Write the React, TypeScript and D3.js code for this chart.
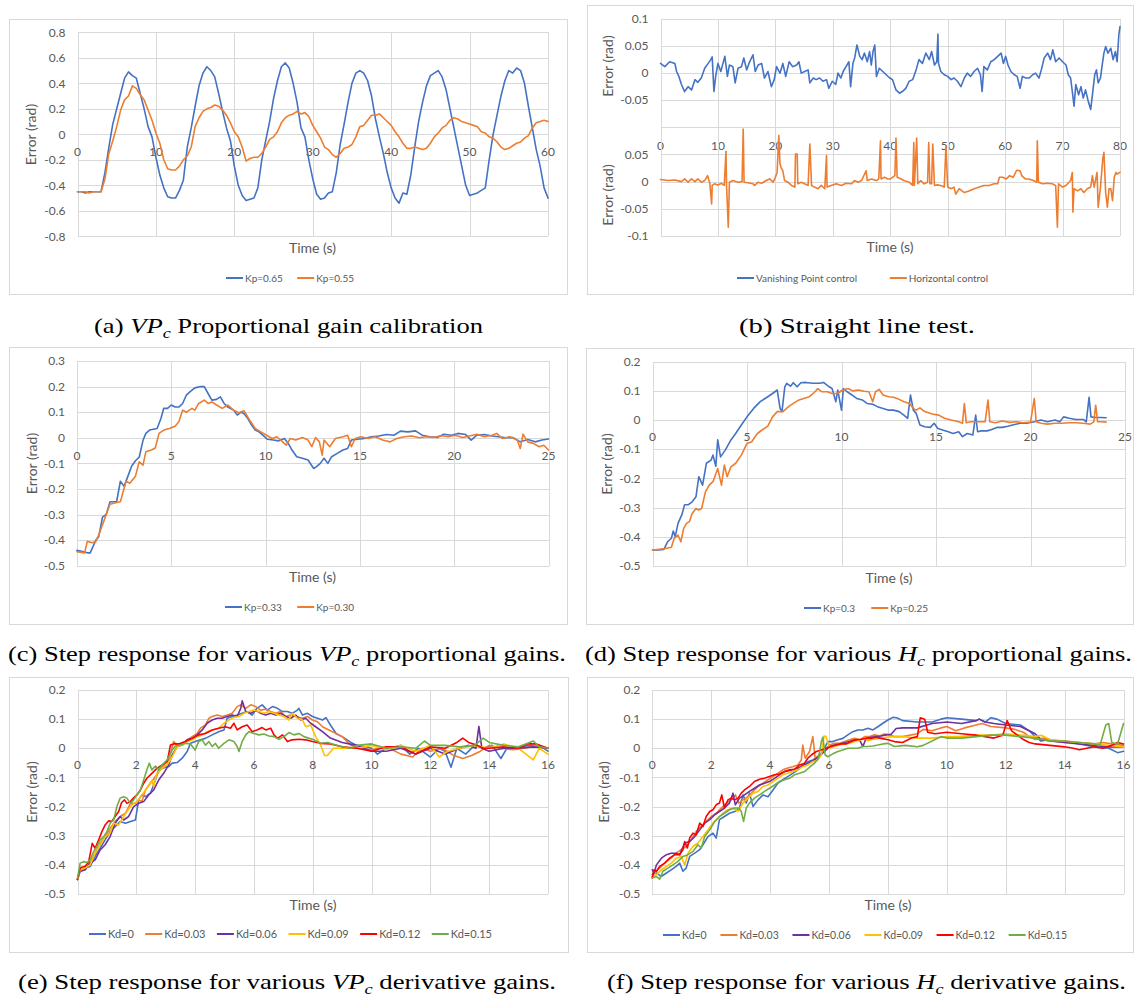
import React, { useEffect, useRef } from "react";
import * as d3 from "d3";

type Pt = [number, number];

const BLUE = "#4472C4";
const ORANGE = "#ED7D31";
const PURPLE = "#7030A0";
const YELLOW = "#FFC000";
const RED = "#FF0000";
const GREEN = "#70AD47";
const GREY = "#595959";
const GRID = "#d9d9d9";
const FONT = "Lato, 'Open Sans', sans-serif";
const SERIF = "'Liberation Serif', 'Times New Roman', Times, serif";

// ---------- (a) proportional gain calibration, sampled every 0.5 s ----------
const A_STEP = 0.5;
const aKp065 = [
  -0.45, -0.45, -0.46, -0.45, -0.45, -0.45, -0.45, -0.3, -0.1, 0.08,
  0.2, 0.32, 0.44, 0.49, 0.46, 0.44, 0.32, 0.2, 0.06, -0.02,
  -0.18, -0.32, -0.42, -0.49, -0.5, -0.5, -0.44, -0.36, -0.1, 0.05,
  0.22, 0.38, 0.48, 0.53, 0.5, 0.45, 0.32, 0.18, 0.05, -0.05,
  -0.25, -0.4, -0.48, -0.52, -0.51, -0.5, -0.42, -0.2, -0.05, 0.1,
  0.28, 0.42, 0.53, 0.56, 0.52, 0.4, 0.25, 0.05, -0.02, -0.2,
  -0.35, -0.47, -0.51, -0.5, -0.46, -0.45, -0.3, -0.08, 0.08, 0.25,
  0.4, 0.48, 0.5, 0.48, 0.42, 0.3, 0.12, -0.02, -0.15, -0.3,
  -0.42, -0.5, -0.54, -0.46, -0.47, -0.32, -0.1, 0.1, 0.25, 0.38,
  0.46, 0.48, 0.5, 0.45, 0.35, 0.2, 0.05, -0.1, -0.25, -0.4,
  -0.48, -0.47, -0.46, -0.44, -0.42, -0.2, 0.0, 0.15, 0.3, 0.42,
  0.5, 0.48, 0.52, 0.5, 0.4, 0.22, 0.05, -0.12, -0.25, -0.42,
  -0.5,
];
const aKp055 = [
  -0.45, -0.45, -0.45, -0.46, -0.45, -0.45, -0.45, -0.35, -0.15, -0.05,
  0.06, 0.19, 0.27, 0.3, 0.38, 0.36, 0.31, 0.27, 0.19, 0.11,
  0.01, -0.07, -0.2, -0.27, -0.28, -0.28, -0.25, -0.2, -0.17, -0.1,
  0.06, 0.13, 0.18, 0.2, 0.21, 0.23, 0.22, 0.19, 0.15, 0.09,
  0.02, -0.02, -0.1, -0.21, -0.19, -0.18, -0.18, -0.15, -0.1, -0.04,
  -0.02, 0.02, 0.09, 0.13, 0.15, 0.16, 0.18, 0.16, 0.17, 0.14,
  0.07, 0.02, -0.03, -0.1, -0.12, -0.16, -0.18, -0.15, -0.11, -0.1,
  -0.08, -0.02, 0.06, 0.07, 0.11, 0.15, 0.15, 0.16, 0.13, 0.1,
  0.07, 0.02, -0.02, -0.07, -0.11, -0.11, -0.1, -0.11, -0.12, -0.11,
  -0.07, -0.02, 0.01, 0.05, 0.07, 0.11, 0.13, 0.12, 0.1, 0.09,
  0.08, 0.07, 0.06, 0.02, 0.01, -0.02, -0.03, -0.06, -0.1, -0.12,
  -0.11, -0.09, -0.07, -0.06, -0.03, -0.01, 0.05, 0.09, 0.1, 0.11,
  0.1,
];
const aXTicks = [0, 10, 20, 30, 40, 50, 60];
const aYTicks = [-0.8, -0.6, -0.4, -0.2, 0, 0.2, 0.4, 0.6, 0.8];

// ---------- (b) straight line test ----------
const bVanishing: Pt[] = [
  [0, 0.018], [0.75, 0.012], [1.6, 0.021], [2.5, 0.018], [2.8, 0.003], [3.2, -0.006], [3.65, -0.021], [4.2, -0.034],
  [4.8, -0.025], [5.4, -0.031], [6, -0.012], [6.5, -0.017], [7.1, -0.009], [7.7, 0.009], [8.3, 0.018], [8.75, 0.025],
  [9, 0.03], [9.3, -0.034], [9.6, -0.006], [10, 0.018], [10.5, 0.003], [11.2, 0.031], [11.65, -0.006], [12, 0.015],
  [12.6, 0.012], [13, -0.018], [13.5, 0.009], [14.1, 0.012], [14.5, 0.028], [15, 0.006], [15.4, 0.018], [16.1, 0.034],
  [16.5, 0.003], [17, 0.015], [17.6, 0.018], [18.1, -0.009], [18.7, 0.003], [19.3, -0.025], [19.8, -0.012], [20.2, 0.012],
  [20.8, 0], [21.3, 0.018], [21.8, -0.006], [22.4, 0.021], [23, 0.012], [23.7, 0.015], [24.1, 0.021], [24.5, 0],
  [25.1, 0.003], [25.7, 0.006], [26, -0.018], [26.6, -0.009], [27.1, -0.012], [27.7, -0.009], [28.3, -0.015], [28.9, -0.012],
  [29.3, -0.028], [29.9, -0.015], [30.5, -0.021], [30.9, 0], [31.4, -0.009], [31.8, 0.003], [32.3, 0.012], [32.8, 0.021],
  [33.1, -0.025], [33.5, 0.018], [33.8, 0.028], [34.2, 0.052], [34.7, 0.031], [35.1, 0.025], [35.5, 0.037], [36, 0.021],
  [36.4, 0.04], [36.7, 0.015], [37, 0.04], [37.3, 0.052], [37.6, -0.006], [38.1, 0.009], [38.7, 0.003], [39.3, -0.003],
  [39.9, -0.009], [40.4, -0.012], [41, -0.031], [41.6, -0.037], [42.1, -0.034], [42.7, -0.028], [43.3, -0.015], [43.9, -0.012],
  [44.5, 0.006], [45, 0.025], [45.6, 0.018], [46.2, 0.037], [46.8, 0.025], [47.2, 0.04], [47.7, 0.015], [48.1, 0.021],
  [48.3, 0.072], [48.4, 0.018], [48.8, 0.003], [49.4, -0.003], [50, -0.006], [50.6, -0.012], [51.1, -0.009], [51.7, -0.015],
  [52.3, -0.025], [52.9, -0.009], [53.4, 0], [54, -0.006], [54.6, 0.003], [55.2, 0.009], [55.7, -0.003], [56, -0.034],
  [56.3, 0.012], [56.9, 0.006], [57.5, 0.021], [58.1, 0.025], [58.7, 0.031], [59.3, 0.037], [59.7, 0.018], [60.1, 0.031],
  [60.5, 0.015], [61, 0.003], [61.6, -0.003], [62.1, -0.006], [62.6, -0.028], [63, -0.006], [63.6, -0.009], [64.2, -0.009],
  [64.8, -0.003], [65.3, 0], [65.9, -0.009], [66.3, 0.006], [66.8, 0.028], [67.4, 0.037], [67.9, 0.025], [68.3, 0.043],
  [68.8, 0.021], [69.4, 0.028], [70, 0.021], [70.6, 0.015], [71, -0.003], [71.4, -0.009], [71.7, -0.034], [72, -0.061],
  [72.3, -0.021], [72.8, -0.04], [73.2, -0.025], [73.6, -0.046], [74, -0.031], [74.4, -0.049], [74.9, -0.067], [75.2, -0.04],
  [75.6, -0.003], [75.9, 0.006], [76.2, -0.018], [76.6, -0.009], [76.9, 0.015], [77.2, 0.037], [77.5, 0.049], [77.9, 0.037],
  [78.4, 0.046], [78.8, 0.025], [79.2, 0.04], [79.5, 0.021], [79.8, 0.071], [80, 0.086],
];
const bHorizontal: Pt[] = [
  [0, 0.004], [1.3, 0.002], [2.5, 0.003], [3.65, 0], [4.2, 0.005], [4.8, -0.001], [5.4, 0.005], [6, 0],
  [6.5, 0.005], [7.1, -0.001], [7.7, 0.002], [8.2, 0.011], [8.6, -0.004], [8.9, -0.041], [9, -0.007], [9.4, -0.004],
  [10, -0.006], [10.6, -0.003], [11.1, -0.007], [11.4, 0.056], [11.5, -0.007], [11.8, -0.084], [12, -0.001], [12.6, 0.002],
  [13.5, -0.001], [14.2, 0], [14.4, 0.097], [14.55, -0.001], [15.2, -0.002], [16.1, -0.004], [16.4, -0.007], [17, -0.001],
  [17.6, -0.003], [18.4, 0.002], [19, 0.005], [19.6, -0.001], [20, 0.008], [20.3, 0.017], [20.6, 0.085], [20.8, 0.033],
  [21, 0.026], [21.3, 0.02], [21.6, 0.002], [22.2, -0.001], [22.8, -0.007], [23.4, -0.01], [23.5, 0.051], [23.8, 0.051],
  [23.9, -0.004], [24.5, -0.001], [25.1, -0.004], [25.7, -0.007], [26, 0.069], [26.3, -0.007], [26.8, -0.01], [27.4, -0.013],
  [28, -0.007], [28.6, -0.013], [28.9, 0.048], [29, -0.01], [29.7, -0.007], [30.6, -0.004], [31.5, -0.007], [32.3, -0.003],
  [33.2, -0.004], [33.8, 0.002], [34.4, -0.001], [35, 0.002], [35.8, 0.02], [36, 0.002], [36.7, 0.005], [37.6, 0.002],
  [38, 0.005], [38.3, 0.075], [38.4, 0.005], [39, 0.008], [39.6, 0.005], [40, 0.005], [40.4, 0.008], [40.8, 0.011],
  [41, 0.08], [41.2, 0.008], [41.9, 0.005], [42.4, 0.002], [43.3, -0.001], [43.9, -0.007], [44.1, 0.072], [44.2, -0.007],
  [44.6, 0.08], [44.8, -0.004], [45.3, 0.002], [45.9, -0.004], [46.5, -0.001], [46.7, 0.072], [46.9, -0.004], [47.2, -0.004],
  [47.4, 0.069], [47.7, -0.007], [48.2, -0.006], [48.8, -0.007], [49.4, -0.01], [49.7, 0.066], [50, -0.01], [50.6, -0.013],
  [51.1, -0.01], [51.4, -0.023], [52, -0.013], [52.9, -0.02], [53.7, -0.017], [54.6, -0.013], [55.5, -0.01], [56.3, -0.007],
  [57.2, -0.007], [58.1, -0.004], [58.7, -0.004], [59, 0.008], [59.6, 0.008], [60.2, 0.005], [60.8, 0.011], [61.4, 0.008],
  [62, 0.021], [62.6, 0.02], [62.9, 0.011], [63.5, 0.005], [64.1, 0.005], [64.9, 0.002], [65.5, -0.001], [65.6, 0.075],
  [65.8, -0.001], [66.5, -0.004], [67.4, -0.003], [68.2, -0.004], [68.8, -0.007], [69.1, -0.084], [69.3, -0.004], [70, -0.01],
  [70.6, -0.007], [71.4, 0.002], [71.7, 0.017], [71.8, -0.056], [72, -0.013], [72.6, -0.017], [73.2, -0.013], [73.7, -0.02],
  [74.3, -0.013], [74.9, -0.01], [75.2, 0.011], [75.5, -0.01], [76, 0.017], [76.2, -0.047], [76.6, -0.01], [77, 0.042],
  [77.2, 0.054], [77.5, -0.02], [77.8, -0.047], [78.1, -0.013], [78.4, -0.013], [78.7, -0.035], [79, 0.008], [79.3, 0.017],
  [79.5, 0.014], [80, 0.017],
];
const bXTicks = [0, 10, 20, 30, 40, 50, 60, 70, 80];
const bYGrid = [-0.1, -0.05, 0, 0.05, 0.1];
const bTopYLabels = [0.1, 0.05, 0, -0.05];
const bBottomYLabels = [0.05, 0, -0.05, -0.1];

// ---------- (c) VPc proportional gains ----------
const cKp033: Pt[] = [
  [0, -0.44], [0.3, -0.445], [0.6, -0.45], [0.7, -0.45], [1.0, -0.4], [1.15, -0.387], [1.35, -0.31], [1.55, -0.3],
  [1.75, -0.25], [1.9, -0.25], [2.1, -0.25], [2.3, -0.17], [2.5, -0.19], [2.7, -0.15], [2.9, -0.11], [3.1, -0.09],
  [3.3, -0.075], [3.5, -0.01], [3.65, 0.017], [3.85, 0.03], [4.05, 0.033], [4.25, 0.036], [4.45, 0.075], [4.6, 0.115],
  [4.8, 0.115], [5.0, 0.128], [5.2, 0.12], [5.4, 0.12], [5.6, 0.134], [5.8, 0.167], [6.0, 0.18], [6.25, 0.195],
  [6.55, 0.2], [6.75, 0.2], [6.95, 0.173], [7.15, 0.147], [7.4, 0.15], [7.6, 0.16], [7.8, 0.134], [8.0, 0.12],
  [8.3, 0.108], [8.5, 0.089], [8.7, 0.1], [8.85, 0.095], [9.05, 0.076], [9.25, 0.05], [9.45, 0.03], [9.65, 0.023],
  [9.85, 0.01], [10.1, -0.006], [10.4, -0.009], [10.7, -0.012], [11.0, -0.003], [11.2, -0.022], [11.4, -0.048], [11.65, -0.074],
  [11.95, -0.08], [12.25, -0.087], [12.55, -0.12], [12.7, -0.113], [12.9, -0.1], [13.1, -0.08], [13.3, -0.1], [13.5, -0.074],
  [13.8, -0.061], [14.1, -0.048], [14.35, -0.042], [14.55, -0.009], [14.85, -0.006], [15.25, -0.003], [15.6, 0.004], [16.0, 0.007],
  [16.4, 0.013], [16.8, 0.01], [17.15, 0.026], [17.55, 0.023], [17.95, 0.027], [18.3, 0.01], [18.7, 0.004], [19.1, 0.001],
  [19.45, 0.014], [19.85, 0.01], [20.2, 0.017], [20.6, 0.013], [20.9, -0.009], [21.2, 0.01], [21.6, 0.013], [22.0, 0.007],
  [22.35, 0.004], [22.75, 0], [23.1, 0.001], [23.5, -0.016], [23.9, -0.007], [24.3, -0.016], [24.65, -0.009], [25, -0.005],
];
const cKp030: Pt[] = [
  [0, -0.445], [0.4, -0.45], [0.55, -0.405], [0.8, -0.41], [1.0, -0.405], [1.15, -0.38], [1.45, -0.32], [1.75, -0.26],
  [2.0, -0.255], [2.3, -0.25], [2.6, -0.17], [2.8, -0.178], [3.1, -0.15], [3.3, -0.094], [3.5, -0.107], [3.65, -0.055],
  [3.95, -0.048], [4.15, -0.04], [4.35, 0.017], [4.6, 0.03], [4.9, 0.036], [5.2, 0.045], [5.4, 0.063], [5.6, 0.108],
  [5.8, 0.1], [6.1, 0.115], [6.25, 0.108], [6.45, 0.134], [6.75, 0.147], [6.95, 0.134], [7.15, 0.14], [7.4, 0.128],
  [7.7, 0.115], [8.0, 0.128], [8.3, 0.108], [8.6, 0.098], [8.85, 0.106], [9.15, 0.07], [9.45, 0.036], [9.75, 0.023],
  [10.05, 0.01], [10.35, -0.003], [10.6, 0.004], [10.9, -0.016], [11.1, -0.029], [11.3, -0.003], [11.6, -0.009], [11.95, 0.001],
  [12.25, -0.009], [12.45, -0.035], [12.65, 0.001], [12.85, -0.016], [13.0, -0.068], [13.1, -0.009], [13.4, -0.035], [13.7, -0.003],
  [14.1, 0.004], [14.35, 0.01], [14.55, -0.035], [14.75, -0.003], [15.05, 0.004], [15.45, -0.003], [15.8, 0.004], [16.2, -0.009],
  [16.6, -0.016], [16.95, -0.003], [17.35, 0.004], [17.75, 0.007], [18.15, 0], [18.5, 0.004], [18.9, 0.001], [19.3, 0.008],
  [19.7, 0.004], [20.05, 0.01], [20.45, 0.001], [20.85, 0.008], [21.2, 0.014], [21.6, 0.004], [22.0, 0.01], [22.25, 0.017],
  [22.55, -0.003], [22.95, 0.004], [23.35, -0.009], [23.5, -0.042], [23.65, 0.014], [23.9, -0.016], [24.2, -0.022], [24.5, -0.035],
  [24.75, -0.029], [25, -0.048],
];
const cdXTicks = [0, 5, 10, 15, 20, 25];
const cYTicks = [-0.5, -0.4, -0.3, -0.2, -0.1, 0, 0.1, 0.2, 0.3];

// ---------- (d) Hc proportional gains ----------
const dKp03: Pt[] = [
  [0, -0.445], [0.33, -0.445], [0.6, -0.443], [0.8, -0.417], [1.0, -0.405], [1.1, -0.38], [1.2, -0.4], [1.35, -0.354],
  [1.55, -0.325], [1.7, -0.29], [1.9, -0.29], [2.1, -0.28], [2.3, -0.263], [2.45, -0.194], [2.65, -0.223], [2.85, -0.148],
  [3.1, -0.137], [3.2, -0.12], [3.35, -0.158], [3.45, -0.068], [3.6, -0.126], [3.85, -0.103], [4.15, -0.068], [4.4, -0.046],
  [4.7, -0.017], [5.0, 0.011], [5.35, 0.04], [5.7, 0.063], [6.1, 0.08], [6.35, 0.091], [6.6, 0.103], [6.75, 0.04],
  [6.85, 0.029], [7.0, 0.114], [7.1, 0.126], [7.3, 0.116], [7.45, 0.128], [7.65, 0.114], [7.85, 0.128], [8.1, 0.129],
  [8.5, 0.126], [8.85, 0.126], [9.05, 0.129], [9.35, 0.114], [9.5, 0.108], [9.7, 0.063], [9.8, 0.103], [10.0, 0.034],
  [10.1, 0.108], [10.3, 0.097], [10.55, 0.086], [10.8, 0.074], [11.1, 0.069], [11.35, 0.057], [11.65, 0.054], [11.9, 0.046],
  [12.2, 0.04], [12.5, 0.034], [12.75, 0.034], [13.05, 0.029], [13.3, 0.017], [13.5, 0.006], [13.65, 0.086], [13.8, 0.034],
  [13.95, 0.023], [14.15, -0.017], [14.4, -0.023], [14.7, -0.025], [14.9, -0.011], [15.1, -0.029], [15.35, -0.034], [15.65, -0.04],
  [15.9, -0.046], [16.2, -0.04], [16.4, -0.057], [16.65, -0.046], [16.95, -0.051], [17.1, 0.017], [17.2, -0.04], [17.4, -0.037],
  [17.7, -0.037], [17.95, -0.032], [18.25, -0.025], [18.5, -0.025], [18.8, -0.021], [19.05, -0.017], [19.45, -0.011], [19.8, -0.011],
  [20.2, -0.006], [20.55, 0], [20.9, -0.006], [21.3, 0], [21.55, -0.006], [21.75, 0.011], [22.05, 0.006], [22.4, 0.002],
  [22.8, 0.002], [22.95, -0.006], [23.1, 0.078], [23.2, 0.011], [23.45, 0.009], [23.7, 0.009], [24.0, 0.008],
];
const dKp025: Pt[] = [
  [0, -0.445], [0.33, -0.443], [0.7, -0.44], [1.0, -0.436], [1.15, -0.405], [1.35, -0.394], [1.5, -0.417], [1.65, -0.371],
  [1.8, -0.354], [1.95, -0.348], [2.1, -0.32], [2.3, -0.303], [2.45, -0.308], [2.6, -0.303], [2.8, -0.246], [3.0, -0.223],
  [3.2, -0.211], [3.45, -0.166], [3.65, -0.223], [3.8, -0.154], [3.95, -0.194], [4.15, -0.16], [4.4, -0.148], [4.7, -0.12],
  [5.0, -0.08], [5.25, -0.074], [5.55, -0.046], [5.8, -0.034], [6.1, -0.021], [6.35, 0.011], [6.6, 0.029], [6.9, 0.029],
  [7.2, 0.046], [7.45, 0.057], [7.75, 0.069], [8.0, 0.074], [8.3, 0.08], [8.6, 0.097], [8.75, 0.108], [8.95, 0.097],
  [9.25, 0.097], [9.5, 0.091], [9.8, 0.091], [10.05, 0.103], [10.35, 0.108], [10.6, 0.1], [10.9, 0.103], [11.2, 0.099],
  [11.45, 0.097], [11.65, 0.063], [11.8, 0.097], [12.0, 0.105], [12.2, 0.086], [12.5, 0.08], [12.75, 0.078], [13.05, 0.071],
  [13.3, 0.063], [13.6, 0.057], [13.8, 0.04], [13.95, 0.034], [14.15, 0.042], [14.4, 0.029], [14.8, 0.021], [15.15, 0.017],
  [15.45, 0.006], [15.8, 0], [16.2, -0.006], [16.4, -0.011], [16.5, 0.057], [16.6, -0.009], [16.85, -0.006], [17.2, -0.006],
  [17.6, -0.006], [17.75, 0.069], [17.85, -0.006], [18.15, -0.009], [18.5, -0.003], [18.9, -0.008], [19.25, -0.006], [19.6, -0.009],
  [20.0, -0.007], [20.2, 0.074], [20.3, -0.006], [20.55, -0.011], [20.9, -0.014], [21.3, -0.011], [21.65, -0.011], [22.05, -0.009],
  [22.4, -0.009], [22.8, -0.011], [23.15, -0.014], [23.35, -0.006], [23.45, 0.051], [23.55, -0.006], [23.8, -0.006], [24.0, -0.007],
];
const dYTicks = [-0.5, -0.4, -0.3, -0.2, -0.1, 0, 0.1, 0.2];

// ---------- (e) VPc derivative gains ----------
const eKd0: Pt[] = [
  [0, -0.45], [0.09, -0.417], [0.26, -0.411], [0.43, -0.406], [0.6, -0.371], [0.77, -0.343], [0.94, -0.314], [1.11, -0.286],
  [1.28, -0.269], [1.45, -0.251], [1.63, -0.257], [1.8, -0.251], [1.97, -0.246], [2.08, -0.177], [2.19, -0.16], [2.31, -0.166],
  [2.48, -0.154], [2.65, -0.109], [2.76, -0.074], [2.88, -0.069], [2.99, -0.065], [3.1, -0.063], [3.22, -0.051], [3.39, -0.049],
  [3.56, -0.034], [3.73, -0.011], [3.84, 0.017], [4.0, 0.023], [4.18, 0.029], [4.35, 0.034], [4.58, 0.046], [4.8, 0.057],
  [4.98, 0.063], [5.09, 0.103], [5.26, 0.109], [5.43, 0.114], [5.6, 0.12], [5.77, 0.126], [5.94, 0.114], [6.1, 0.137],
  [6.28, 0.149], [6.45, 0.131], [6.63, 0.143], [6.8, 0.137], [6.97, 0.126], [7.14, 0.126], [7.3, 0.12], [7.48, 0.131],
  [7.53, 0.137], [7.65, 0.114], [7.82, 0.12], [7.99, 0.109], [8.16, 0.103], [8.33, 0.097], [8.45, 0.105], [8.6, 0.08],
  [8.8, 0.05], [9, 0.04], [9.3, 0.02], [9.5, 0.01], [9.8, 0.005], [10, 0], [10.2, -0.02], [10.5, 0],
  [10.8, 0.005], [11, 0.01], [11.3, -0.02], [11.6, 0], [12, -0.03], [12.3, 0], [12.5, -0.01], [12.7, -0.065],
  [12.9, 0], [13.2, -0.02], [13.5, 0.01], [13.8, 0], [14.1, 0.01], [14.4, -0.035], [14.6, 0], [15, 0.005],
  [15.4, 0.01], [15.7, 0.01], [16, -0.01],
];
const eKd003: Pt[] = [
  [0, -0.45], [0.09, -0.411], [0.26, -0.417], [0.43, -0.389], [0.6, -0.36], [0.77, -0.326], [0.94, -0.303], [1.11, -0.274],
  [1.28, -0.251], [1.45, -0.234], [1.63, -0.223], [1.8, -0.189], [1.97, -0.189], [2.08, -0.177], [2.19, -0.183], [2.31, -0.143],
  [2.48, -0.12], [2.65, -0.097], [2.82, -0.074], [2.99, -0.051], [3.1, -0.04], [3.27, 0.023], [3.39, 0.011], [3.56, 0.017],
  [3.73, 0.029], [3.9, 0.04], [4.07, 0.051], [4.18, 0.069], [4.35, 0.08], [4.47, 0.103], [4.58, 0.109], [4.75, 0.114],
  [4.92, 0.109], [5.09, 0.114], [5.26, 0.12], [5.43, 0.143], [5.55, 0.149], [5.72, 0.137], [5.89, 0.149], [6.06, 0.143],
  [6.23, 0.131], [6.4, 0.134], [6.57, 0.126], [6.74, 0.12], [6.91, 0.126], [7.08, 0.109], [7.25, 0.114], [7.42, 0.109],
  [7.65, 0.103], [7.82, 0.109], [7.99, 0.097], [8.16, 0.091], [8.33, 0.074], [8.6, 0.06], [9, 0.04], [9.3, 0.01],
  [9.6, 0], [10, -0.005], [10.5, 0.005], [11, -0.02], [11.4, -0.03], [11.7, 0], [12, -0.01], [12.4, 0],
  [12.8, -0.025], [13.1, -0.035], [13.4, -0.025], [13.7, -0.01], [14, 0.01], [14.4, 0], [14.8, -0.005], [15.2, 0],
  [15.6, 0.01], [16, 0],
];
const eKd006: Pt[] = [
  [0, -0.45], [0.09, -0.423], [0.26, -0.417], [0.43, -0.394], [0.6, -0.383], [0.77, -0.349], [0.94, -0.331], [1.11, -0.303],
  [1.28, -0.257], [1.45, -0.234], [1.57, -0.246], [1.74, -0.234], [1.91, -0.2], [2.08, -0.189], [2.25, -0.183], [2.42, -0.16],
  [2.59, -0.143], [2.76, -0.109], [2.93, -0.086], [3.1, -0.057], [3.22, -0.023], [3.39, 0.006], [3.56, 0.011], [3.73, 0.029],
  [3.9, 0.034], [4.07, 0.046], [4.24, 0.063], [4.41, 0.086], [4.58, 0.097], [4.75, 0.103], [4.92, 0.103], [5.09, 0.109],
  [5.26, 0.114], [5.43, 0.109], [5.55, 0.137], [5.6, 0.163], [5.72, 0.126], [5.89, 0.12], [6.06, 0.131], [6.23, 0.12],
  [6.4, 0.114], [6.57, 0.12], [6.74, 0.114], [6.91, 0.12], [7.08, 0.109], [7.25, 0.103], [7.42, 0.114], [7.59, 0.097],
  [7.76, 0.103], [7.93, 0.086], [8.1, 0.074], [8.33, 0.057], [8.6, 0.035], [9, 0.02], [9.5, 0.01], [10, -0.01],
  [10.5, -0.01], [11, 0], [11.5, -0.02], [12, 0], [12.5, -0.02], [13, 0], [13.3, 0.01], [13.55, 0],
  [13.65, 0.075], [13.75, 0], [14, -0.01], [14.5, 0], [15, 0], [15.5, 0.005], [16, 0],
];
const eKd009: Pt[] = [
  [0, -0.45], [0.09, -0.417], [0.26, -0.411], [0.43, -0.4], [0.6, -0.36], [0.77, -0.331], [0.94, -0.303], [1.11, -0.291],
  [1.23, -0.257], [1.4, -0.263], [1.57, -0.234], [1.68, -0.217], [1.85, -0.194], [2.02, -0.183], [2.19, -0.16], [2.36, -0.137],
  [2.53, -0.109], [2.59, -0.131], [2.7, -0.086], [2.88, -0.069], [3.05, -0.057], [3.22, -0.029], [3.39, 0.006], [3.56, 0.011],
  [3.73, 0.023], [3.9, 0.029], [4.07, 0.04], [4.24, 0.046], [4.41, 0.057], [4.58, 0.063], [4.8, 0.069], [4.98, 0.086],
  [5.15, 0.097], [5.32, 0.106], [5.49, 0.109], [5.66, 0.12], [5.83, 0.126], [6.0, 0.131], [6.17, 0.126], [6.34, 0.12],
  [6.51, 0.126], [6.68, 0.12], [6.85, 0.114], [7.02, 0.109], [7.19, 0.097], [7.3, 0.12], [7.48, 0.103], [7.65, 0.097],
  [7.76, 0.074], [7.93, 0.08], [8.1, 0.04], [8.27, 0.011], [8.4, -0.025], [8.5, -0.025], [8.7, 0], [9, 0],
  [9.5, 0], [10, 0.01], [10.5, -0.005], [11, 0.01], [11.5, -0.01], [12, 0.01], [12.3, -0.03], [12.6, -0.01],
  [13, 0], [13.5, 0.01], [14, 0], [14.5, 0.015], [15, 0], [15.5, -0.04], [15.7, 0], [16, -0.02],
];
const eKd012: Pt[] = [
  [0, -0.45], [0.09, -0.41], [0.26, -0.405], [0.38, -0.39], [0.5, -0.326], [0.6, -0.343], [0.72, -0.314], [0.83, -0.286],
  [0.94, -0.263], [1.06, -0.249], [1.17, -0.251], [1.28, -0.234], [1.4, -0.217], [1.5, -0.186], [1.6, -0.177], [1.68, -0.189],
  [1.8, -0.183], [1.9, -0.171], [2.02, -0.16], [2.14, -0.143], [2.25, -0.12], [2.36, -0.103], [2.53, -0.086], [2.7, -0.069],
  [2.88, -0.057], [3.05, -0.046], [3.16, 0.011], [3.27, 0.015], [3.44, 0.015], [3.67, 0.023], [3.9, 0.034], [4.12, 0.046],
  [4.35, 0.051], [4.58, 0.063], [4.8, 0.069], [5.03, 0.074], [5.2, 0.069], [5.32, 0.086], [5.43, 0.063], [5.6, 0.074],
  [5.77, 0.08], [5.94, 0.057], [6.1, 0.063], [6.28, 0.071], [6.4, 0.063], [6.57, 0.069], [6.68, 0.046], [6.8, 0.034],
  [6.97, 0.046], [7.14, 0.023], [7.3, 0.029], [7.53, 0.031], [7.76, 0.029], [7.99, 0.023], [8.27, 0.017], [8.6, 0.015],
  [9, 0.005], [9.5, 0], [10, -0.01], [10.5, 0.005], [11, 0.005], [11.5, -0.02], [12, 0.005], [12.5, 0],
  [12.9, 0.02], [13.1, 0.035], [13.3, 0.02], [13.6, 0.01], [13.8, 0], [14, 0], [14.5, 0.005], [15, 0],
  [15.3, 0.015], [15.6, 0.015], [16, 0],
];
const eKd015: Pt[] = [
  [0, -0.446], [0.09, -0.394], [0.2, -0.389], [0.32, -0.392], [0.43, -0.383], [0.55, -0.354], [0.66, -0.337], [0.77, -0.314],
  [0.89, -0.303], [1.0, -0.286], [1.11, -0.257], [1.23, -0.246], [1.34, -0.2], [1.45, -0.171], [1.57, -0.166], [1.68, -0.171],
  [1.8, -0.189], [1.91, -0.177], [2.02, -0.16], [2.14, -0.143], [2.25, -0.109], [2.36, -0.074], [2.44, -0.051], [2.53, -0.074],
  [2.65, -0.061], [2.76, -0.074], [2.88, -0.057], [3.05, -0.04], [3.22, -0.006], [3.33, 0.008], [3.5, 0.011], [3.67, 0.017],
  [3.84, 0.015], [4.0, -0.006], [4.12, 0.023], [4.24, 0.029], [4.35, 0.011], [4.47, 0.023], [4.58, 0.006], [4.69, 0.017],
  [4.8, 0], [4.98, 0.017], [5.15, 0.029], [5.32, 0.023], [5.43, 0.006], [5.49, -0.011], [5.6, 0.023], [5.72, 0.046],
  [5.83, 0.057], [6.0, 0.051], [6.17, 0.046], [6.34, 0.049], [6.51, 0.042], [6.68, 0.04], [6.85, 0.031], [7.02, 0.04],
  [7.19, 0.054], [7.36, 0.046], [7.53, 0.051], [7.7, 0.04], [7.88, 0.034], [8.05, 0.029], [8.27, 0.017], [8.5, 0.02],
  [9, 0.005], [9.3, 0], [9.5, 0.01], [10, 0.015], [10.5, 0], [11, 0.005], [11.5, 0], [11.8, 0.025],
  [12, 0.01], [12.5, 0.01], [13, 0.005], [13.5, 0.01], [13.8, 0.035], [14, 0.02], [14.5, 0.01], [15, 0.005],
  [15.5, 0.025], [15.7, 0.005], [16, 0],
];
const efXTicks = [0, 2, 4, 6, 8, 10, 12, 14, 16];

// ---------- (f) Hc derivative gains ----------
const fKd0: Pt[] = [
  [0, -0.434], [0.08, -0.422], [0.3, -0.44], [0.48, -0.428], [0.64, -0.417], [0.81, -0.405], [0.93, -0.394], [1.04, -0.422],
  [1.15, -0.411], [1.27, -0.371], [1.44, -0.36], [1.61, -0.348], [1.72, -0.331], [1.89, -0.303], [2.06, -0.291], [2.17, -0.308],
  [2.28, -0.245], [2.45, -0.234], [2.62, -0.223], [2.8, -0.217], [2.96, -0.205], [3.08, -0.16], [3.19, -0.188], [3.3, -0.154],
  [3.42, -0.2], [3.59, -0.177], [3.76, -0.16], [3.93, -0.166], [4.1, -0.143], [4.26, -0.12], [4.43, -0.108], [4.6, -0.097],
  [4.77, -0.086], [4.94, -0.074], [5.11, -0.057], [5.28, -0.046], [5.45, -0.04], [5.62, -0.029], [5.79, -0.011], [5.96, 0.023],
  [6.13, 0.023], [6.3, 0.029], [6.47, 0.034], [6.64, 0.046], [6.81, 0.057], [6.98, 0.063], [7.15, 0.063], [7.32, 0.069],
  [7.49, 0.063], [7.66, 0.074], [7.83, 0.086], [8.0, 0.097], [8.17, 0.106], [8.3, 0.105], [8.5, 0.095], [9, 0.09],
  [9.5, 0.09], [9.8, 0.1], [10, 0.105], [10.5, 0.1], [11, 0.095], [11.1, 0.1], [11.3, 0.09], [11.5, 0.105],
  [11.7, 0.1], [12, 0.085], [12.5, 0.08], [12.8, 0.06], [13, 0.04], [13.2, 0.025], [13.5, 0.03], [13.8, 0.025],
  [14, 0.025], [14.5, 0.015], [15, 0.005], [15.5, 0], [15.8, -0.015], [16, -0.01],
];
const fKd003: Pt[] = [
  [0, -0.44], [0.14, -0.422], [0.31, -0.405], [0.48, -0.388], [0.64, -0.377], [0.81, -0.36], [0.98, -0.348], [1.15, -0.337],
  [1.32, -0.314], [1.49, -0.285], [1.66, -0.268], [1.83, -0.251], [2.0, -0.234], [2.17, -0.223], [2.34, -0.205], [2.51, -0.188],
  [2.68, -0.177], [2.82, -0.16], [2.93, -0.188], [3.08, -0.177], [3.25, -0.166], [3.42, -0.148], [3.59, -0.131], [3.76, -0.12],
  [3.93, -0.108], [4.1, -0.097], [4.26, -0.086], [4.43, -0.074], [4.6, -0.068], [4.77, -0.063], [4.94, -0.057], [5.06, -0.04],
  [5.11, 0.011], [5.19, -0.034], [5.34, -0.011], [5.45, 0.04], [5.53, -0.034], [5.68, -0.023], [5.85, -0.006], [6.02, 0.011],
  [6.19, 0.017], [6.36, 0.017], [6.53, 0.023], [6.7, 0.029], [6.87, 0.034], [7.04, 0.029], [7.21, 0.04], [7.38, 0.04],
  [7.55, 0.046], [7.71, 0.042], [7.88, 0.049], [8.05, 0.046], [8.22, 0.04], [8.5, 0.04], [9, 0.05], [9.2, 0.065],
  [9.5, 0.06], [9.8, 0.07], [10, 0.075], [10.3, 0.06], [10.6, 0.07], [11, 0.08], [11.2, 0.085], [11.5, 0.075],
  [12, 0.07], [12.3, 0.065], [12.6, 0.055], [12.8, 0.04], [13, 0.03], [13.3, 0.035], [13.6, 0.025], [14, 0.02],
  [14.5, 0.02], [15, 0.015], [15.3, 0.02], [15.6, 0.015], [16, 0.01],
];
const fKd006: Pt[] = [
  [0, -0.417], [0.06, -0.428], [0.14, -0.4], [0.31, -0.377], [0.48, -0.365], [0.64, -0.36], [0.81, -0.36], [0.93, -0.365],
  [1.1, -0.325], [1.27, -0.32], [1.44, -0.303], [1.61, -0.28], [1.78, -0.257], [1.95, -0.245], [2.12, -0.228], [2.28, -0.217],
  [2.45, -0.205], [2.62, -0.188], [2.74, -0.154], [2.82, -0.194], [2.96, -0.171], [3.13, -0.16], [3.3, -0.148], [3.47, -0.137],
  [3.64, -0.126], [3.81, -0.12], [3.98, -0.114], [4.15, -0.103], [4.32, -0.091], [4.49, -0.08], [4.66, -0.076], [4.83, -0.072],
  [5.0, -0.065], [5.17, -0.057], [5.34, -0.049], [5.51, -0.04], [5.68, -0.026], [5.85, -0.011], [6.02, 0.006], [6.19, 0.011],
  [6.36, 0.015], [6.53, 0.019], [6.7, 0.023], [6.87, 0.029], [7.04, 0.029], [7.15, 0.006], [7.26, 0.034], [7.43, 0.038],
  [7.6, 0.04], [7.77, 0.042], [7.94, 0.046], [8.11, 0.048], [8.28, 0.068], [8.5, 0.07], [9, 0.07], [9.5, 0.085],
  [10, 0.09], [10.5, 0.085], [11, 0.095], [11.1, 0.1], [11.3, 0.09], [11.6, 0.085], [12, 0.08], [12.5, 0.075],
  [12.8, 0.06], [13, 0.05], [13.2, 0.03], [13.5, 0.025], [14, 0.02], [14.5, 0.015], [15, 0.01], [15.5, 0.005],
  [16, 0.005],
];
const fKd009: Pt[] = [
  [0, -0.44], [0.14, -0.434], [0.31, -0.417], [0.48, -0.405], [0.64, -0.394], [0.81, -0.377], [0.98, -0.371], [1.1, -0.4],
  [1.21, -0.36], [1.38, -0.337], [1.55, -0.325], [1.72, -0.303], [1.89, -0.28], [2.06, -0.257], [2.23, -0.24], [2.4, -0.223],
  [2.57, -0.211], [2.74, -0.205], [2.91, -0.217], [3.08, -0.188], [3.25, -0.171], [3.42, -0.154], [3.59, -0.148], [3.76, -0.131],
  [3.93, -0.126], [4.1, -0.114], [4.26, -0.103], [4.43, -0.091], [4.6, -0.086], [4.77, -0.08], [4.94, -0.074], [5.11, -0.063],
  [5.28, -0.057], [5.45, -0.046], [5.62, -0.04], [5.74, -0.023], [5.83, 0.042], [5.9, 0.04], [6.02, 0], [6.19, 0.006],
  [6.36, 0.011], [6.53, 0.015], [6.7, 0.017], [6.87, 0.023], [7.09, 0.029], [7.21, 0.034], [7.32, 0.026], [7.49, 0.031],
  [7.71, 0.034], [7.94, 0.038], [8.17, 0.04], [8.5, 0.04], [9, 0.035], [9.5, 0.035], [10, 0.04], [10.5, 0.04],
  [11, 0.045], [11.5, 0.045], [12, 0.05], [12.5, 0.045], [13, 0.04], [13.2, 0.045], [13.5, 0.03], [14, 0.025],
  [14.5, 0.02], [15, 0.015], [15.5, 0.01], [16, 0.005],
];
const fKd012: Pt[] = [
  [0, -0.445], [0.06, -0.417], [0.14, -0.422], [0.25, -0.405], [0.42, -0.394], [0.59, -0.377], [0.76, -0.365], [0.93, -0.365],
  [1.04, -0.348], [1.1, -0.32], [1.19, -0.342], [1.27, -0.308], [1.38, -0.291], [1.49, -0.297], [1.61, -0.257], [1.72, -0.268],
  [1.83, -0.234], [1.95, -0.217], [2.06, -0.211], [2.17, -0.194], [2.28, -0.188], [2.36, -0.16], [2.45, -0.205], [2.57, -0.177],
  [2.68, -0.171], [2.79, -0.177], [2.91, -0.171], [3.02, -0.154], [3.13, -0.143], [3.3, -0.131], [3.47, -0.114], [3.64, -0.106],
  [3.81, -0.103], [3.98, -0.097], [4.15, -0.091], [4.32, -0.088], [4.49, -0.08], [4.66, -0.074], [4.83, -0.072], [5.0, -0.057],
  [5.17, -0.051], [5.28, -0.034], [5.4, -0.023], [5.57, -0.011], [5.74, -0.006], [5.9, 0], [6.07, 0.006], [6.24, 0.011],
  [6.41, 0.015], [6.58, 0.015], [6.75, 0.023], [6.92, 0.029], [7.09, 0.031], [7.26, 0.034], [7.43, 0.034], [7.6, 0.038],
  [7.77, 0.034], [8.0, 0.029], [8.22, 0.023], [8.5, 0.02], [8.8, 0.035], [9.0, 0.04], [9.1, 0.105], [9.25, 0.1],
  [9.35, 0.055], [9.6, 0.05], [10, 0.055], [10.5, 0.05], [11, 0.045], [11.3, 0.04], [11.6, 0.035], [11.9, 0.045],
  [12.05, 0.095], [12.2, 0.06], [12.4, 0.045], [12.6, 0.03], [12.8, 0.02], [13.0, 0.015], [13.5, 0.01], [14, 0.005],
  [14.3, 0], [14.5, -0.005], [15, 0.005], [15.3, 0], [15.6, 0.01], [15.8, 0.02], [16, 0.015],
];
const fKd015: Pt[] = [
  [0, -0.445], [0.14, -0.44], [0.25, -0.449], [0.36, -0.422], [0.53, -0.411], [0.7, -0.4], [0.87, -0.388], [1.04, -0.371],
  [1.21, -0.365], [1.38, -0.354], [1.55, -0.331], [1.66, -0.342], [1.78, -0.303], [1.95, -0.28], [2.12, -0.251], [2.28, -0.234],
  [2.45, -0.223], [2.62, -0.211], [2.79, -0.205], [2.93, -0.205], [3.02, -0.217], [3.1, -0.251], [3.19, -0.205], [3.3, -0.188],
  [3.47, -0.171], [3.64, -0.16], [3.81, -0.148], [3.98, -0.137], [4.15, -0.126], [4.32, -0.114], [4.49, -0.108], [4.66, -0.103],
  [4.83, -0.091], [5.0, -0.086], [5.17, -0.08], [5.34, -0.065], [5.51, -0.051], [5.64, -0.034], [5.74, 0.023], [5.79, 0.038],
  [5.87, -0.023], [5.96, -0.029], [6.13, -0.019], [6.3, -0.011], [6.47, -0.006], [6.64, 0], [6.81, 0], [6.98, 0],
  [7.15, 0.006], [7.32, 0.006], [7.49, 0.008], [7.66, 0.011], [7.83, 0.015], [8.0, 0.017], [8.22, 0.006], [8.6, 0.01],
  [9, 0.005], [9.2, 0.01], [9.5, 0.025], [9.8, 0.04], [10, 0.035], [10.5, 0.035], [11, 0.04], [11.5, 0.045],
  [12, 0.045], [12.5, 0.04], [13, 0.035], [13.5, 0.025], [14, 0.025], [14.5, 0.02], [15, 0.015], [15.2, 0.01],
  [15.4, 0.08], [15.5, 0.085], [15.6, 0.02], [15.8, 0.015], [16, 0.085],
];

const kpLabels = ["Kp=0.65", "Kp=0.55"];
const kdLabels = ["Kd=0", "Kd=0.03", "Kd=0.06", "Kd=0.09", "Kd=0.12", "Kd=0.15"];
const kdColors = [BLUE, ORANGE, PURPLE, YELLOW, RED, GREEN];

// ---------- drawing helpers ----------
interface Series { data: Pt[]; color: string; }
interface Plot {
  left: number; right: number; top: number; bottom: number;
  xDomain: [number, number]; yDomain: [number, number];
  xGrid: number[]; yGrid: number[];
  xLabels: number[]; xLabelAt: number | null; xLabelOffset: number;
  yLabels: number[];
  series: Series[];
}
interface Panel {
  frame: [number, number, number, number];
  plots: Plot[];
  yTitles: [number, number][];
  xTitle: [number, number];
  legend: { x0: number; x1: number; y: number; size: number; items: { label: string; color: string }[] };
  caption: { x0: number; x1: number; y: number; parts: { t: string; italic?: boolean; sub?: boolean }[] };
}

const fmt = (v: number) => (Math.abs(v) < 1e-9 ? "0" : String(+v.toFixed(2)));
const toPts = (vals: number[], step: number): Pt[] => vals.map((v, i) => [i * step, v] as Pt);

function drawPlot(g: d3.Selection<SVGGElement, unknown, null, undefined>, p: Plot, id: string) {
  const x = d3.scaleLinear().domain(p.xDomain).range([p.left, p.right]);
  const y = d3.scaleLinear().domain(p.yDomain).range([p.bottom, p.top]);
  const grid = g.append("g").attr("shape-rendering", "crispEdges");
  grid.selectAll("line.h").data(p.yGrid).join("line").attr("class", "h")
    .attr("x1", p.left).attr("x2", p.right).attr("y1", (d) => Math.round(y(d)) + 0.5).attr("y2", (d) => Math.round(y(d)) + 0.5)
    .attr("stroke", GRID);
  grid.selectAll("line.v").data(p.xGrid).join("line").attr("class", "v")
    .attr("y1", p.top).attr("y2", p.bottom).attr("x1", (d) => Math.round(x(d)) + 0.5).attr("x2", (d) => Math.round(x(d)) + 0.5)
    .attr("stroke", GRID);

  g.append("g").selectAll("text").data(p.yLabels).join("text")
    .attr("x", p.left - 12).attr("y", (d) => y(d)).attr("dy", "0.35em")
    .attr("text-anchor", "end").attr("font-family", FONT).attr("font-size", 12).attr("fill", GREY)
    .text((d) => fmt(d));

  if (p.xLabelAt !== null) {
    const ly = y(p.xLabelAt) + p.xLabelOffset;
    g.append("g").selectAll("text").data(p.xLabels).join("text")
      .attr("x", (d) => x(d)).attr("y", ly).attr("dy", "0.35em")
      .attr("text-anchor", "middle").attr("font-family", FONT).attr("font-size", 12).attr("fill", GREY)
      .text((d) => fmt(d));
  }

  g.append("clipPath").attr("id", id).append("rect")
    .attr("x", p.left - 2).attr("y", p.top - 2).attr("width", p.right - p.left + 4).attr("height", p.bottom - p.top + 4);
  const line = d3.line<Pt>().x((d) => x(d[0])).y((d) => y(d[1]));
  const lines = g.append("g").attr("clip-path", `url(#${id})`);
  p.series.forEach((s) => {
    lines.append("path").attr("d", line(s.data)).attr("fill", "none").attr("stroke", s.color)
      .attr("stroke-width", 1.6).attr("stroke-linejoin", "round").attr("stroke-linecap", "round");
  });
}

function drawPanel(svg: d3.Selection<SVGSVGElement, unknown, null, undefined>, pn: Panel, idx: number) {
  const g = svg.append("g");
  const [fx, fy, fw, fh] = pn.frame;
  g.append("rect").attr("x", fx + 0.5).attr("y", fy + 0.5).attr("width", fw).attr("height", fh)
    .attr("fill", "#fff").attr("stroke", GRID);
  pn.plots.forEach((p, i) => drawPlot(g, p, `clip-${idx}-${i}`));

  pn.yTitles.forEach(([tx, ty]) => {
    g.append("text").attr("transform", `translate(${tx},${ty}) rotate(-90)`).attr("dy", "0.35em")
      .attr("text-anchor", "middle").attr("font-family", FONT).attr("font-size", 14).attr("fill", GREY)
      .text("Error (rad)");
  });
  g.append("text").attr("x", pn.xTitle[0]).attr("y", pn.xTitle[1]).attr("dy", "0.35em")
    .attr("text-anchor", "middle").attr("font-family", FONT).attr("font-size", 14).attr("fill", GREY)
    .text("Time (s)");

  // legend: measure labels, then spread them over the measured span
  const lg = pn.legend;
  const leg = g.append("g");
  const LINE = 17;
  const texts = lg.items.map((it) =>
    leg.append("text").attr("font-family", FONT).attr("font-size", lg.size).attr("fill", GREY)
      .attr("dy", "0.35em").attr("y", lg.y).text(it.label));
  const widths = texts.map((t) => (t.node() as SVGTextElement).getComputedTextLength());
  const used = d3.sum(widths) + lg.items.length * (LINE + 2);
  const gap = lg.items.length > 1 ? (lg.x1 - lg.x0 - used) / (lg.items.length - 1) : 0;
  let cx = lg.x0;
  lg.items.forEach((it, i) => {
    leg.append("line").attr("x1", cx).attr("x2", cx + LINE).attr("y1", lg.y).attr("y2", lg.y)
      .attr("stroke", it.color).attr("stroke-width", 2);
    texts[i].attr("x", cx + LINE + 2);
    cx += LINE + 2 + widths[i] + gap;
  });

  // caption in a Times face, fitted to the span it takes in the figure
  const c = pn.caption;
  const ct = svg.append("text").attr("x", c.x0).attr("y", c.y)
    .style("font-family", SERIF).style("font-size", "22px").attr("fill", "#000");
  let afterSub = false;
  c.parts.forEach((pt) => {
    const ts = ct.append("tspan").text(pt.t);
    if (pt.italic) ts.style("font-style", "italic");
    if (pt.sub) {
      ts.style("font-size", "15px").attr("dy", 5);
      afterSub = true;
    } else if (afterSub) {
      ts.attr("dy", -5);
      afterSub = false;
    }
  });
  ct.attr("textLength", c.x1 - c.x0).attr("lengthAdjust", "spacingAndGlyphs");
}

const VPc = [{ t: "VP", italic: true }, { t: "c", italic: true, sub: true }];
const Hc = [{ t: "H", italic: true }, { t: "c", italic: true, sub: true }];

const panels: Panel[] = [
  {
    frame: [9, 19, 558, 275],
    plots: [{
      left: 77.5, right: 548, top: 32.3, bottom: 236.3, xDomain: [0, 60], yDomain: [-0.8, 0.8],
      xGrid: aXTicks, yGrid: aYTicks, xLabels: aXTicks, xLabelAt: 0, xLabelOffset: 17, yLabels: aYTicks,
      series: [{ data: toPts(aKp065, A_STEP), color: BLUE }, { data: toPts(aKp055, A_STEP), color: ORANGE }],
    }],
    yTitles: [[31, 134.5]], xTitle: [312.5, 248],
    legend: { x0: 226, x1: 354, y: 278, size: 10, items: [{ label: kpLabels[0], color: BLUE }, { label: kpLabels[1], color: ORANGE }] },
    caption: { x0: 94, x1: 483, y: 333, parts: [{ t: "(a) " }, ...VPc, { t: " Proportional gain calibration" }] },
  },
  {
    frame: [587, 5, 546, 289],
    plots: [
      {
        left: 660.5, right: 1120, top: 19, bottom: 127.3, xDomain: [0, 80], yDomain: [-0.1, 0.1],
        xGrid: bXTicks, yGrid: bYGrid, xLabels: bXTicks, xLabelAt: -0.1, xLabelOffset: 18, yLabels: bTopYLabels,
        series: [{ data: bVanishing, color: BLUE }],
      },
      {
        left: 660.5, right: 1120, top: 127.3, bottom: 236, xDomain: [0, 80], yDomain: [-0.1, 0.1],
        xGrid: bXTicks, yGrid: bYGrid, xLabels: [], xLabelAt: null, xLabelOffset: 0, yLabels: bBottomYLabels,
        series: [{ data: bHorizontal, color: ORANGE }],
      },
    ],
    yTitles: [[608, 66], [608, 195]], xTitle: [890, 247],
    legend: { x0: 737, x1: 988, y: 278, size: 10, items: [{ label: "Vanishing Point control", color: BLUE }, { label: "Horizontal control", color: ORANGE }] },
    caption: { x0: 739, x1: 975, y: 333, parts: [{ t: "(b) Straight line test." }] },
  },
  {
    frame: [9, 347, 558, 277],
    plots: [{
      left: 77, right: 548.5, top: 361, bottom: 565.7, xDomain: [0, 25], yDomain: [-0.5, 0.3],
      xGrid: cdXTicks, yGrid: cYTicks, xLabels: cdXTicks, xLabelAt: 0, xLabelOffset: 18, yLabels: cYTicks,
      series: [{ data: cKp033, color: BLUE }, { data: cKp030, color: ORANGE }],
    }],
    yTitles: [[32, 463.5]], xTitle: [312.5, 577],
    legend: { x0: 225, x1: 354, y: 607, size: 10, items: [{ label: "Kp=0.33", color: BLUE }, { label: "Kp=0.30", color: ORANGE }] },
    caption: { x0: 8, x1: 566, y: 661, parts: [{ t: "(c) Step response for various " }, ...VPc, { t: " proportional gains." }] },
  },
  {
    frame: [586, 348, 547, 276],
    plots: [{
      left: 652.5, right: 1125, top: 361.7, bottom: 566, xDomain: [0, 25], yDomain: [-0.5, 0.2],
      xGrid: cdXTicks, yGrid: dYTicks, xLabels: cdXTicks, xLabelAt: 0, xLabelOffset: 17, yLabels: dYTicks,
      series: [{ data: dKp03, color: BLUE }, { data: dKp025, color: ORANGE }],
    }],
    yTitles: [[607, 464]], xTitle: [889, 578],
    legend: { x0: 804, x1: 928, y: 608, size: 10, items: [{ label: "Kp=0.3", color: BLUE }, { label: "Kp=0.25", color: ORANGE }] },
    caption: { x0: 585, x1: 1132, y: 661, parts: [{ t: "(d) Step response for various " }, ...Hc, { t: " proportional gains." }] },
  },
  {
    frame: [9, 677, 559, 275],
    plots: [{
      left: 77.5, right: 548, top: 690, bottom: 894, xDomain: [0, 16], yDomain: [-0.5, 0.2],
      xGrid: efXTicks, yGrid: dYTicks, xLabels: efXTicks, xLabelAt: 0, xLabelOffset: 17, yLabels: dYTicks,
      series: [eKd0, eKd003, eKd006, eKd009, eKd012, eKd015].map((d, i) => ({ data: d, color: kdColors[i] })),
    }],
    yTitles: [[32, 792]], xTitle: [313, 905],
    legend: { x0: 89, x1: 492, y: 934, size: 11, items: kdLabels.map((l, i) => ({ label: l, color: kdColors[i] })) },
    caption: { x0: 18, x1: 556, y: 989, parts: [{ t: "(e) Step response for various " }, ...VPc, { t: " derivative gains." }] },
  },
  {
    frame: [587, 677, 546, 275],
    plots: [{
      left: 652.3, right: 1123.5, top: 690, bottom: 894, xDomain: [0, 16], yDomain: [-0.5, 0.2],
      xGrid: efXTicks, yGrid: dYTicks, xLabels: efXTicks, xLabelAt: 0, xLabelOffset: 17, yLabels: dYTicks,
      series: [fKd0, fKd003, fKd006, fKd009, fKd012, fKd015].map((d, i) => ({ data: d, color: kdColors[i] })),
    }],
    yTitles: [[604, 792]], xTitle: [888, 905],
    legend: { x0: 663, x1: 1067, y: 935, size: 10.5, items: kdLabels.map((l, i) => ({ label: l, color: kdColors[i] })) },
    caption: { x0: 607, x1: 1126, y: 989, parts: [{ t: "(f) Step response for various " }, ...Hc, { t: " derivative gains." }] },
  },
];

export default function App() {
  const ref = useRef<SVGSVGElement>(null);
  useEffect(() => {
    const svg = d3.select(ref.current as SVGSVGElement);
    svg.selectAll("*").remove();
    svg.append("rect").attr("width", 1134).attr("height", 1001).attr("fill", "#fff");
    panels.forEach((p, i) => drawPanel(svg, p, i));
  }, []);
  return (
    <svg ref={ref} width={1134} height={1001}
      style={{ position: "absolute", left: 0, top: 0, display: "block" }} />
  );
}
